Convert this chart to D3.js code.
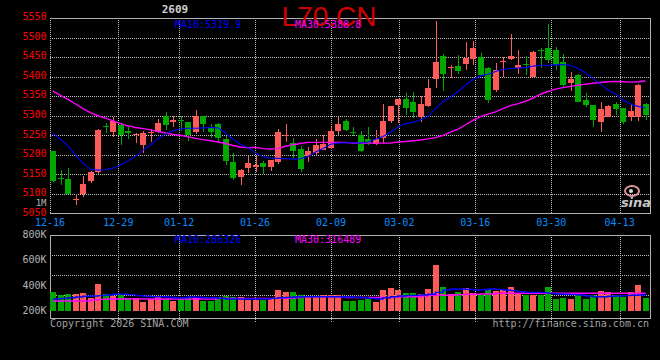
<!DOCTYPE html>
<html><head><meta charset="utf-8">
<script src="https://cdn.jsdelivr.net/npm/d3@7"></script>
<style>html,body{margin:0;padding:0;background:#000;}svg{display:block}</style>
</head><body>
<svg id="c" width="660" height="360"></svg>
<script>
// ---------- data ----------
const openP = [5210,5142,5139,5086,5100,5132,5156,5273,5259,5277, 5260,5252,5225,5256,5259,5299,5285,5288,5283,5258,
  5299,5270,5279,5241,5182,5144,5166,5170,5178,5170, 5181,5248,5231,5214,5196,5204,5212,5217,5261,5287,
  5259,5250,5241,5227,5242,5287,5327,5343,5334,5298, 5326,5395,5452,5421,5427,5432,5446,5451,5421,5366,
  5439,5444,5423,5432,5400,5469,5472,5468,5438,5383, 5405,5340,5327,5285,5298,5330,5319,5298,5298,5329];
const highP = [5211,5161,5166,5101,5147,5158,5265,5281,5298,5282, 5270,5256,5262,5266,5291,5309,5299,5299,5285,5315,
  5300,5279,5282,5249,5206,5163,5198,5197,5184,5188, 5266,5280,5242,5222,5220,5241,5251,5272,5297,5292,
  5270,5261,5270,5264,5329,5326,5344,5357,5360,5350, 5394,5542,5459,5431,5455,5489,5491,5461,5425,5434,
  5451,5508,5468,5452,5466,5472,5534,5475,5457,5411, 5406,5357,5328,5334,5327,5334,5320,5330,5381,5332];
const lowP = [5131,5123,5099,5071,5093,5128,5150,5256,5245,5224, 5240,5230,5204,5232,5256,5264,5272,5262,5236,5254,
  5258,5244,5234,5174,5136,5123,5153,5157,5150,5159, 5177,5234,5193,5156,5182,5200,5212,5216,5251,5262,
  5249,5207,5224,5224,5230,5281,5281,5302,5293,5285, 5323,5370,5364,5397,5408,5417,5431,5402,5333,5361,
  5400,5443,5406,5404,5399,5423,5434,5417,5370,5363, 5334,5322,5270,5258,5296,5302,5280,5287,5287,5289];
const closeP = [5132,5139,5100,5088,5126,5157,5264,5270,5286,5251, 5257,5254,5256,5258,5281,5276,5288,5286,5251,5299,
  5279,5258,5243,5183,5142,5160,5180,5173,5169,5187, 5259,5250,5211,5165,5210,5225,5228,5261,5279,5264,
  5257,5210,5230,5241,5287,5326,5344,5321,5309,5330, 5370,5438,5406,5424,5415,5448,5474,5404,5340,5417,
  5441,5452,5429,5430,5463,5467,5442,5429,5378,5395, 5336,5327,5289,5317,5325,5317,5285,5312,5378,5302];
const volume = [350000,324000,334000,334000,342000,305000,413000,334000,321000,329000,
  305000,305000,274000,295000,313000,295000,279000,295000,313000,313000,
  279000,279000,313000,321000,313000,308000,287000,287000,287000,295000,
  366000,350000,350000,326000,313000,318000,326000,326000,326000,279000,
  279000,287000,295000,274000,366000,382000,366000,339000,339000,331000,
  374000,563000,392000,334000,350000,384000,345000,326000,374000,360000,
  366000,392000,339000,326000,326000,326000,392000,295000,305000,295000,
  339000,295000,326000,358000,353000,326000,313000,347000,405000,305000];
const ma10 = [5255,5240,5222,5200,5178,5163,5161,5162,5166,5174, 5185,5196,5212,5225,5242,5253,5262,5266,5268,5268,
  5269,5270,5269,5256,5240,5227,5218,5205,5195,5192, 5191,5190,5189,5190,5196,5207,5216,5227,5230,5231,
  5231,5230,5233,5240,5247,5258,5272,5280,5283,5290, 5298,5318,5336,5348,5362,5378,5393,5402,5406,5413,
  5419,5421,5422,5423,5427,5429,5429,5430,5431,5429, 5421,5410,5395,5381,5366,5356,5340,5330,5324,5320];
const ma30 = [5363,5352,5342,5330,5318,5308,5300,5294,5287,5280, 5274,5270,5267,5264,5260,5256,5252,5250,5246,5242,
  5239,5236,5233,5229,5224,5220,5218,5219,5216,5215, 5216,5222,5226,5229,5232,5232,5232,5232,5232,5232,
  5230,5230,5230,5230,5230,5230,5233,5234,5236,5238, 5241,5244,5250,5258,5266,5277,5288,5298,5304,5310,
  5318,5326,5331,5337,5345,5355,5362,5368,5372,5375, 5378,5381,5383,5385,5387,5388,5387,5386,5387,5389];
const volMa10 = [295,300,305,310,316,318,321,326,332,332, 329,321,316,313,313,310,305,305,310,308,
  305,305,300,295,295,295,295,295,295,300, 305,307,310,313,313,313,313,313,313,310,
  308,305,300,295,305,313,318,321,323,326, 332,347,366,374,374,371,366,368,374,371,
  366,361,353,347,347,345,339,334,332,329, 326,318,313,313,316,318,321,324,326,321].map(v => v * 1000);
const volMa30 = [279,279,279,279,279,287,292,295,295,295, 295,295,295,295,295,295,295,295,295,295,
  295,295,300,300,300,300,300,300,300,300, 300,300,305,313,313,313,313,313,313,307,
  307,307,307,307,307,313,313,313,313,318, 324,326,324,326,329,332,332,334,334,340,
  340,340,340,340,340,340,340,340,340,340, 340,340,340,340,340,340,340,340,340,340].map(v => v * 1000);
const priceTicks = [5550,5500,5450,5400,5350,5300,5250,5200,5150,5100,5050];
const volTicks = [800000,600000,400000,200000];
const volTickLabels = ['800K','600K','400K','200K'];
const tickDates = ['12-16','12-29','01-12','01-26','02-09','03-02','03-16','03-30','04-13'];
const tickIndex = [0,9,17,27,37,46,56,66,75];
const titleText = 'L70.CN';
const contractText = '2609';
const ma10Text = 'MA10:5319.9';
const ma30Text = 'MA30:5388.8';
const volMa10Text = 'MA10:286326';
const volMa30Text = 'MA30:316489';

// ---------- setup ----------
const svg = d3.select('#c');
const N = closeP.length;
const L = 50, R = 650, T = 18, B = 213.5;
const VT = 235, VB = 318, VBASE = 311;
const MONO = '"DejaVu Sans Mono", "Liberation Mono", monospace';
const RED = '#ff5a5a', GREEN = '#00a800';
const GRID = '#c0c0c0', FRAME = '#b0b0b0';

const x = d3.scaleBand().domain(d3.range(N)).range([L, R]);
const xc = i => x(i) + 3;
const xGrid = d3.scaleLinear().domain([0, 79]).range([L, R]);
const y = d3.scaleLinear().domain([5050, 5550]).range([B, T]);
const yv = d3.scaleLinear().domain([200000, 800000]).range([VBASE, VT]);

svg.append('rect').attr('width', 660).attr('height', 360).attr('fill', '#000');

const g = svg.append('g').attr('shape-rendering', 'crispEdges');
const DASH = '1,1';

// horizontal price grid
g.selectAll('.hg').data(priceTicks.filter(v => v > 5050 && v < 5550)).join('line')
  .attr('x1', L).attr('x2', R).attr('y1', d => Math.round(y(d)) + 0.5).attr('y2', d => Math.round(y(d)) + 0.5)
  .attr('stroke', GRID).attr('stroke-dasharray', DASH);
// vertical grid main + volume
const vIdx = tickIndex.slice(1);
g.selectAll('.vg').data(vIdx).join('line')
  .attr('x1', d => Math.round(xGrid(d)) + 0.5).attr('x2', d => Math.round(xGrid(d)) + 0.5)
  .attr('y1', T).attr('y2', B).attr('stroke', GRID).attr('stroke-dasharray', DASH);
g.selectAll('.vg2').data(vIdx).join('line')
  .attr('x1', d => Math.round(xGrid(d)) + 0.5).attr('x2', d => Math.round(xGrid(d)) + 0.5)
  .attr('y1', VT).attr('y2', VB + 4).attr('stroke', GRID).attr('stroke-dasharray', DASH);
// volume horizontal grid (panel quarters)
g.selectAll('.vhg').data([1, 2, 3]).join('line')
  .attr('x1', L).attr('x2', R)
  .attr('y1', k => VT + k * 20 + 0.5).attr('y2', k => VT + k * 20 + 0.5)
  .attr('stroke', GRID).attr('stroke-dasharray', DASH);

// frames
g.append('line').attr('x1', L).attr('x2', R).attr('y1', T + 0.5).attr('y2', T + 0.5).attr('stroke', FRAME);
g.append('line').attr('x1', L).attr('x2', R + 1).attr('y1', B).attr('y2', B).attr('stroke', FRAME);
g.append('line').attr('x1', R + 0.5).attr('x2', R + 0.5).attr('y1', T).attr('y2', B).attr('stroke', FRAME);
g.append('line').attr('x1', L + 0.5).attr('x2', L + 0.5).attr('y1', T).attr('y2', B).attr('stroke', GRID).attr('stroke-dasharray', DASH);
g.append('rect').attr('x', L + 0.5).attr('y', VT + 0.5).attr('width', R - L).attr('height', VB - VT)
  .attr('fill', 'none').attr('stroke', FRAME);

// candles
const cg = g.append('g');
const idx = d3.range(N);
const col = i => closeP[i] >= openP[i] ? RED : GREEN;
cg.selectAll('.wick').data(idx).join('rect')
  .attr('x', i => Math.round(xc(i))).attr('width', 1)
  .attr('y', i => y(highP[i])).attr('height', i => Math.max(1, y(lowP[i]) - y(highP[i])))
  .attr('fill', col);
cg.selectAll('.body').data(idx).join('rect')
  .attr('x', i => Math.round(x(i))).attr('width', 6)
  .attr('y', i => y(Math.max(openP[i], closeP[i])))
  .attr('height', i => Math.max(1, Math.abs(y(openP[i]) - y(closeP[i]))))
  .attr('fill', col);

// price MAs
const lineP = arr => d3.line().x((d, i) => xc(i)).y(d => y(d))(arr);
svg.append('path').attr('d', lineP(ma30)).attr('fill', 'none').attr('stroke', '#ff00ff').attr('stroke-width', 1.4);
svg.append('path').attr('d', lineP(ma10)).attr('fill', 'none').attr('stroke', '#0000ff').attr('stroke-width', 1.1);

// volume bars
g.selectAll('.vbar').data(idx).join('rect')
  .attr('x', i => Math.round(x(i))).attr('width', 6)
  .attr('y', i => yv(volume[i])).attr('height', i => VBASE - yv(volume[i]))
  .attr('fill', col);
const lineV = arr => d3.line().x((d, i) => xc(i)).y(d => yv(d)).curve(d3.curveStepAfter)(arr);
svg.append('path').attr('d', lineV(volMa30)).attr('fill', 'none').attr('stroke', '#ff00ff').attr('stroke-width', 1.4);
svg.append('path').attr('d', lineV(volMa10)).attr('fill', 'none').attr('stroke', '#0000ff').attr('stroke-width', 1.4);

// ---------- texts ----------
const txt = (t, xx, yy, fill, opts = {}) => svg.append('text').text(t)
  .attr('x', xx).attr('y', yy).attr('fill', fill)
  .attr('font-family', opts.family || MONO).attr('font-size', opts.size || 10)
  .attr('font-weight', opts.weight || 'normal').attr('font-style', opts.style || 'normal')
  .attr('text-anchor', opts.anchor || 'start');

// title and headers
txt(titleText, 329, 26, '#d00000', {family: '"Liberation Sans", Arial, sans-serif', size: 28, anchor: 'middle'});
txt(contractText, 175, 13, '#d0d0d0', {size: 11, weight: 'bold', anchor: 'middle'});
txt(ma10Text, 175, 27.5, '#0000ff');
txt(ma30Text, 295, 27.5, '#ff00ff');

// price axis labels
priceTicks.forEach(v => txt(String(v), 46.5, y(v) + 2.2, '#ff0000', {anchor: 'end'}));
txt('1M', 46.5, 205.5, '#b4b4b4', {anchor: 'end', size: 9});

// date labels
tickDates.forEach((d, k) => txt(d, xGrid(tickIndex[k]), 225.5, '#0a8cff', {anchor: 'middle'}));

// volume axis labels
volTicks.forEach((v, k) => txt(volTickLabels[k], 46.5, yv(v) + 3, '#b4b4b4', {anchor: 'end'}));
txt(volMa10Text, 175, 243, '#0000ff');
txt(volMa30Text, 295, 243, '#ff00ff');

// footer
txt('Copyright 2026 SINA.COM', 50, 327, '#a0a0a0');
txt('http://finance.sina.com.cn', 649, 327, '#a0a0a0', {anchor: 'end'});

// sina watermark
svg.append('ellipse').attr('cx', 632).attr('cy', 191).attr('rx', 7).attr('ry', 5)
  .attr('fill', 'none').attr('stroke', '#f2a7ad').attr('stroke-width', 2).attr('opacity', 0.9);
svg.append('circle').attr('cx', 631).attr('cy', 191).attr('r', 2).attr('fill', '#d9d9d9');
txt('sina', 636, 207, '#dcdcdc', {family: '"DejaVu Sans", sans-serif', size: 13, weight: 'bold', style: 'italic', anchor: 'middle'}).attr('opacity', 0.9);
</script>
</body></html>
